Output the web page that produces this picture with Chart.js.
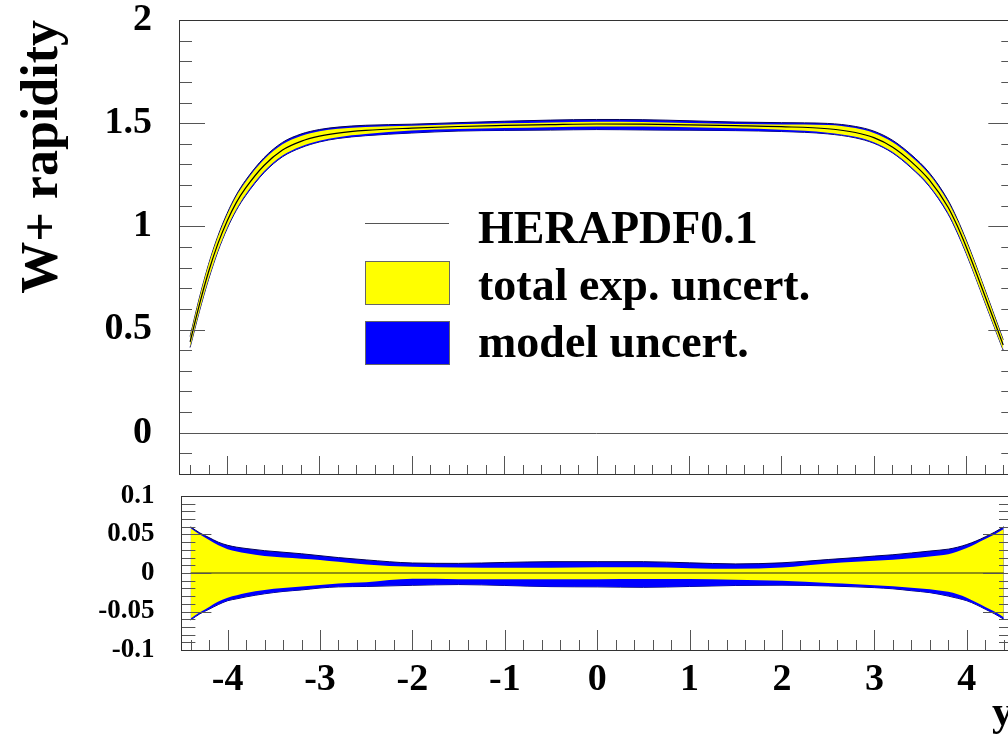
<!DOCTYPE html>
<html>
<head>
<meta charset="utf-8">
<script src="https://cdn.jsdelivr.net/npm/chart.js@4.4.0/dist/chart.umd.min.js"></script>
<style>
  html, body { margin: 0; padding: 0; background: #fff; overflow: hidden; }
  #wrap { position: relative; width: 1008px; height: 737px; overflow: hidden; }
  .pane { position: absolute; left: 0; }
  #topPane { top: 0; }
  #bottomPane { top: 480px; }
</style>
</head>
<body>
<div id="wrap">
  <div class="pane" id="topPane"><canvas id="mainChart" width="1024" height="480"></canvas></div>
  <div class="pane" id="bottomPane"><canvas id="ratioChart" width="1024" height="257"></canvas></div>
</div>
<script>
// rapidity points (x)
const rapidity = [-4.4, -4.3, -4.2, -4.1, -4.0, -3.9, -3.8, -3.6, -3.4, -3.2, -3.0, -2.8, -2.5, -2.0, -1.5, -1.0, -0.5,
  0, 0.5, 1.0, 1.5, 2.0, 2.5, 2.8, 3.0, 3.2, 3.4, 3.6, 3.8, 3.9, 4.0, 4.1, 4.2, 4.3, 4.4];

// HERAPDF0.1 central prediction
const central = [0.44, 0.62, 0.78, 0.915, 1.025, 1.115, 1.185, 1.295, 1.37, 1.412, 1.437, 1.452, 1.465, 1.476, 1.484, 1.489, 1.493,
  1.496, 1.495, 1.492, 1.488, 1.483, 1.473, 1.455, 1.43, 1.385, 1.315, 1.225, 1.095, 1.005, 0.90, 0.785, 0.665, 0.545, 0.425];

// relative uncertainties (fraction of central)
const expUp = [0.058, 0.050, 0.043, 0.036, 0.031, 0.028, 0.0255, 0.022, 0.020, 0.0185, 0.017, 0.0145, 0.011, 0.008, 0.0072, 0.0069, 0.0069,
  0.0074, 0.0074, 0.0062, 0.0054, 0.0072, 0.0125, 0.0145, 0.0158, 0.0172, 0.019, 0.0215, 0.0245, 0.028, 0.0325, 0.038, 0.044, 0.050, 0.057];
const expDn = [-0.059, -0.051, -0.044, -0.037, -0.032, -0.029, -0.026, -0.022, -0.0195, -0.0175, -0.0156, -0.0135, -0.012, -0.0076, -0.008, -0.0082, -0.0082,
  -0.008, -0.0078, -0.0078, -0.0088, -0.0102, -0.013, -0.0145, -0.016, -0.0172, -0.019, -0.021, -0.0245, -0.0275, -0.032, -0.038, -0.044, -0.050, -0.0575];
const totUp = [0.060, 0.052, 0.046, 0.040, 0.036, 0.0335, 0.0318, 0.029, 0.027, 0.025, 0.0225, 0.020, 0.017, 0.013, 0.0125, 0.0137, 0.0147,
  0.0147, 0.0147, 0.0132, 0.0118, 0.0132, 0.0175, 0.020, 0.022, 0.0237, 0.026, 0.0285, 0.031, 0.0335, 0.037, 0.0415, 0.047, 0.053, 0.060];
const totDn = [-0.061, -0.053, -0.047, -0.041, -0.036, -0.0335, -0.031, -0.027, -0.024, -0.022, -0.0195, -0.018, -0.0175, -0.016, -0.015, -0.0162, -0.0177,
  -0.018, -0.0186, -0.0175, -0.0162, -0.0158, -0.0168, -0.018, -0.019, -0.0205, -0.023, -0.0255, -0.030, -0.0328, -0.036, -0.041, -0.047, -0.053, -0.060];

// tick labels
const mainTicks = [0, 0.5, 1, 1.5, 2];
const ratioTicks = [-0.1, -0.05, 0, 0.05, 0.1];
const xTicks = [-4, -3, -2, -1, 0, 1, 2, 3, 4];
const legendLabels = ['HERAPDF0.1', 'total exp. uncert.', 'model uncert.'];

const SERIF = "'Liberation Serif', 'Times New Roman', serif";
Chart.defaults.font.family = SERIF;
Chart.defaults.color = '#000';

function tickValues(min, max, step) {
  const out = [];
  for (let k = Math.ceil(min / step - 1e-6); k * step <= max + 1e-9; k++) out.push(k * step);
  return out;
}
function isMajor(v, major) {
  const r = v / major;
  return Math.abs(r - Math.round(r)) < 1e-6;
}
function fixBox(scale, size) {
  if (scale.isHorizontal()) scale.height = size;
  else scale.width = size;
  scale.paddingTop = 0;
  scale.paddingBottom = 0;
  scale.paddingLeft = 0;
  scale.paddingRight = 0;
}

// ROOT-like frame with inward ticks
const rootFrame = {
  id: 'rootFrame',
  afterDatasetsDraw(chart, args, opts) {
    const { ctx, chartArea: a, scales: { x, y } } = chart;
    ctx.save();
    ctx.lineWidth = 1;
    if (opts.zeroLine) {
      const py = Math.round(y.getPixelForValue(0)) + 0.5;
      ctx.strokeStyle = '#555';
      ctx.beginPath();
      ctx.moveTo(a.left, py);
      ctx.lineTo(a.right, py);
      ctx.stroke();
    }
    ctx.strokeStyle = '#555';
    ctx.beginPath();
    tickValues(y.min, y.max, opts.yMinor).forEach((v) => {
      const len = isMajor(v, opts.yMajor) ? opts.yMajorLen : opts.yMinorLen;
      const py = Math.round(y.getPixelForValue(v)) + 0.5;
      ctx.moveTo(a.left, py); ctx.lineTo(a.left + len, py);
      ctx.moveTo(a.right, py); ctx.lineTo(a.right - len, py);
    });
    tickValues(x.min, x.max, opts.xMinor).forEach((v) => {
      const len = isMajor(v, 1) ? opts.xMajorLen : opts.xMinorLen;
      const px = Math.round(x.getPixelForValue(v)) + 0.5;
      ctx.moveTo(px, a.bottom); ctx.lineTo(px, a.bottom - len);
    });
    ctx.stroke();
    ctx.strokeStyle = '#333';
    ctx.strokeRect(Math.round(a.left) + 0.5, Math.round(a.top) + 0.5,
      Math.round(a.right - a.left), Math.round(a.bottom - a.top));
    ctx.restore();
  }
};

// legend drawn inside the top frame
const rootLegend = {
  id: 'rootLegend',
  afterDraw(chart) {
    const { ctx } = chart;
    ctx.save();
    ctx.lineWidth = 1;
    ctx.strokeStyle = '#555';
    ctx.beginPath();
    ctx.moveTo(365, 223.5);
    ctx.lineTo(449, 223.5);
    ctx.stroke();

    ctx.fillStyle = '#ffff00';
    ctx.fillRect(366, 262, 83, 42);
    ctx.strokeStyle = '#666';
    ctx.strokeRect(365.5, 261.5, 84, 43);

    ctx.fillStyle = '#0000ff';
    ctx.fillRect(366, 322, 83, 42);
    ctx.strokeRect(365.5, 321.5, 84, 43);

    ctx.fillStyle = '#000';
    ctx.font = `bold 46px ${SERIF}`;
    ctx.textAlign = 'left';
    ctx.textBaseline = 'alphabetic';
    legendLabels.forEach((t, i) => ctx.fillText(t, 478, 243 + i * 57));
    ctx.restore();
  }
};

const lineBase = { pointRadius: 0, cubicInterpolationMode: 'monotone' };

function bandDatasets(makePoints) {
  return [
    { ...lineBase, label: 'model up', data: makePoints(totUp), borderColor: '#00005a', borderWidth: 1, backgroundColor: '#0000ff', fill: '+1', order: 3 },
    { ...lineBase, label: 'model down', data: makePoints(totDn), borderColor: '#00005a', borderWidth: 1, fill: false, order: 3 },
    { ...lineBase, label: 'exp up', data: makePoints(expUp), borderColor: 'rgba(0,0,0,0)', borderWidth: 0, backgroundColor: '#ffff00', fill: '+1', order: 2 },
    { ...lineBase, label: 'exp down', data: makePoints(expDn), borderColor: 'rgba(0,0,0,0)', borderWidth: 0, fill: false, order: 2 },
  ];
}

const mainPoints = (rel) => rapidity.map((x, i) => ({ x, y: central[i] * (1 + rel[i]) }));
const ratioPoints = (rel) => rapidity.map((x, i) => ({ x, y: rel[i] }));

new Chart(document.getElementById('mainChart'), {
  type: 'line',
  data: {
    datasets: [
      ...bandDatasets(mainPoints),
      { ...lineBase, label: 'HERAPDF0.1', data: rapidity.map((x, i) => ({ x, y: central[i] })), borderColor: '#000', borderWidth: 1.2, fill: false, order: 1 },
    ],
  },
  options: {
    responsive: false,
    animation: false,
    layout: { padding: { top: 20, right: 9.7, left: 0, bottom: 0 } },
    plugins: {
      legend: { display: false },
      tooltip: { enabled: false },
      rootFrame: { zeroLine: true, yMajor: 0.5, yMinor: 0.1, yMajorLen: 26, yMinorLen: 13, xMinor: 0.2, xMajorLen: 18, xMinorLen: 9 },
    },
    scales: {
      x: {
        type: 'linear', min: -4.52, max: 4.52,
        grid: { display: false, drawTicks: false }, border: { display: false },
        ticks: { display: false },
        afterFit: (scale) => fixBox(scale, 6),
      },
      y: {
        min: -0.2, max: 2,
        grid: { display: false, drawTicks: false }, border: { display: false },
        afterBuildTicks: (scale) => { scale.ticks = mainTicks.map((v) => ({ value: v })); },
        ticks: { font: { size: 38, weight: 'bold' }, padding: 27, autoSkip: false, callback: (v) => String(v) },
        title: { display: true, text: 'W+ rapidity', align: 'end', font: { size: 52, weight: 'bold' }, padding: { top: 12 } },
        afterFit: (scale) => fixBox(scale, 179),
      },
    },
  },
  plugins: [rootFrame, rootLegend],
});

new Chart(document.getElementById('ratioChart'), {
  type: 'line',
  data: {
    datasets: [
      ...bandDatasets(ratioPoints),
      { ...lineBase, label: 'central', data: rapidity.map((x) => ({ x, y: 0 })), borderColor: '#222', borderWidth: 1.2, fill: false, order: 1 },
    ],
  },
  options: {
    responsive: false,
    animation: false,
    layout: { padding: { top: 16, right: 11, left: 0, bottom: 0 } },
    plugins: {
      legend: { display: false },
      tooltip: { enabled: false },
      rootFrame: { zeroLine: false, yMajor: 0.05, yMinor: 0.01, yMajorLen: 30, yMinorLen: 14, xMinor: 0.2, xMajorLen: 20, xMinorLen: 10 },
    },
    scales: {
      x: {
        type: 'linear', min: -4.5, max: 4.5,
        grid: { display: false, drawTicks: false }, border: { display: false },
        afterBuildTicks: (scale) => { scale.ticks = xTicks.map((v) => ({ value: v })); },
        ticks: { font: { size: 38, weight: 'bold' }, padding: 7, maxRotation: 0, minRotation: 0, autoSkip: false, callback: (v) => String(v) },
        title: { display: true, text: 'y', align: 'end', font: { size: 42, weight: 'bold', lineHeight: 1 }, padding: { bottom: 2 } },
        afterFit: (scale) => fixBox(scale, 87),
      },
      y: {
        min: -0.1, max: 0.1,
        grid: { display: false, drawTicks: false }, border: { display: false },
        afterBuildTicks: (scale) => { scale.ticks = ratioTicks.map((v) => ({ value: v })); },
        ticks: { font: { size: 27, weight: 'bold' }, padding: 27, autoSkip: false, callback: (v) => String(v) },
        afterFit: (scale) => fixBox(scale, 181.4),
      },
    },
  },
  plugins: [rootFrame],
});
</script>
</body>
</html>
